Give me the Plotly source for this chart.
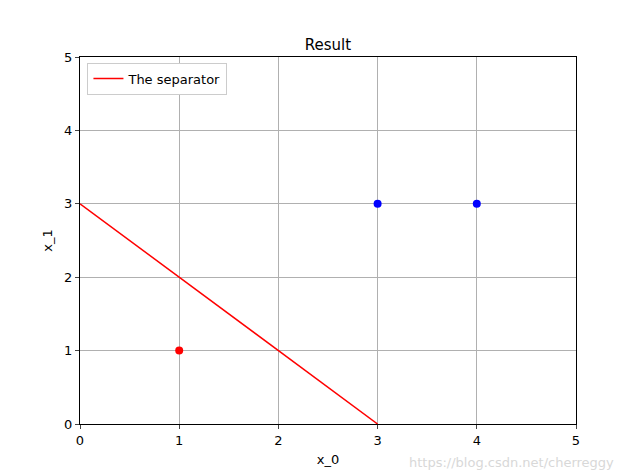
import plotly.graph_objects as go

line_x = [0, 3]
line_y = [3, 0]
red_x = [1]; red_y = [1]
blue_x = [3, 4]; blue_y = [3, 3]

fig = go.Figure()
fig.add_trace(go.Scatter(x=line_x, y=line_y, mode="lines", line=dict(color="red", width=1.5), name="The separator"))
fig.add_trace(go.Scatter(x=red_x, y=red_y, mode="markers", marker=dict(color="red", size=8), showlegend=False))
fig.add_trace(go.Scatter(x=blue_x, y=blue_y, mode="markers", marker=dict(color="blue", size=8), showlegend=False))

ax = dict(range=[0, 5], dtick=1, showgrid=True, gridcolor="#b0b0b0", gridwidth=1,
          showline=True, linecolor="black", mirror=True, ticks="outside", ticklen=4,
          zeroline=False, tickfont=dict(size=13, color="black"))
fig.update_layout(
    width=640, height=476, margin=dict(l=72, r=72, t=49, b=60),
    plot_bgcolor="white", paper_bgcolor="white",
    font=dict(family="DejaVu Sans", color="black"),
    title=dict(text="Result", x=0.5, xanchor="center", y=1 - 37/476, yanchor="middle", font=dict(size=15)),
    xaxis=dict(ax, title=dict(text="x_0", font=dict(size=13), standoff=8)),
    yaxis=dict(ax, title=dict(text="x_1", font=dict(size=13), standoff=8)),
    legend=dict(x=0.015, y=0.985, xanchor="left", yanchor="top", bgcolor="white",
                bordercolor="#cccccc", borderwidth=1, font=dict(size=13)),
    showlegend=True,
)
fig.add_annotation(text="https://blog.csdn.net/cherreggy", xref="paper", yref="paper",
                   x=1.08, y=-0.13, xanchor="right", yanchor="bottom", showarrow=False,
                   font=dict(size=13, color="#d8d8d8"))
fig.write_html("out.html")
